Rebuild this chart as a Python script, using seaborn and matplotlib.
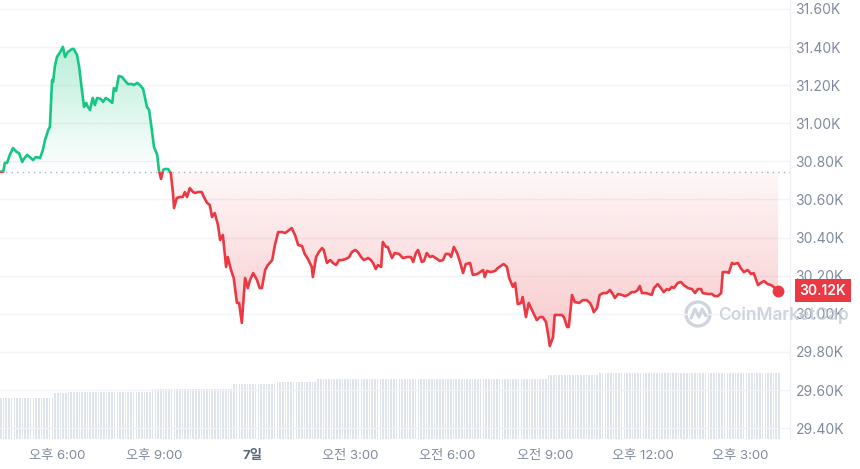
import numpy as np
import pandas as pd
import matplotlib
matplotlib.use("Agg")
import matplotlib.pyplot as plt
import seaborn as sns
from matplotlib.colors import to_rgb
from matplotlib.patches import Rectangle, Ellipse
from matplotlib.lines import Line2D

# minutes after 16:15 (6th), price in thousands of USD
minutes = [0, 6, 9, 13, 18, 24, 31, 35, 41, 44, 50, 57, 61, 66, 74, 79, 83, 89, 92, 96,
           98, 101, 105, 111, 116, 120, 125, 133, 136, 142, 146, 151, 155, 159, 162, 166, 171, 175, 179, 186,
           190, 195, 201, 207, 210, 214, 219, 225, 231, 236, 243, 247, 253, 258, 264, 271, 275, 280, 284, 290,
           293, 297, 301, 304, 310, 315, 319, 321, 326, 332, 337, 341, 345, 350, 356, 360, 365, 372, 376, 382,
           387, 391, 396, 402, 406, 411, 417, 420, 426, 431, 437, 441, 446, 452, 457, 461, 467, 474, 479, 483,
           489, 494, 502, 507, 513, 520, 526, 531, 538, 544, 550, 557, 562, 568, 575, 577, 583, 588, 594, 597,
           603, 609, 614, 620, 625, 631, 638, 644, 649, 655, 660, 666, 671, 679, 684, 688, 693, 697, 703, 706,
           712, 715, 723, 728, 736, 743, 751, 758, 762, 767, 771, 778, 782, 787, 793, 798, 806, 811, 817, 822,
           828, 832, 837, 843, 848, 854, 859, 867, 872, 880, 883, 891, 894, 898, 905, 913, 918, 926, 929, 935,
           939, 946, 950, 955, 961, 964, 970, 975, 983, 990, 996, 1001, 1007, 1011, 1014, 1020, 1023, 1029, 1036, 1040,
           1046, 1049, 1055, 1060, 1068, 1075, 1082, 1088, 1092, 1095, 1101, 1106, 1112, 1119, 1125, 1129, 1134, 1140, 1147, 1153,
           1158, 1165, 1171, 1176, 1180, 1184, 1191, 1197, 1202, 1206, 1213, 1219, 1224, 1230, 1234, 1239, 1243, 1250, 1256, 1261,
           1269, 1276, 1282, 1287, 1293, 1296, 1306, 1313, 1318, 1324, 1330, 1333, 1341, 1344, 1350, 1354, 1361, 1366, 1372, 1379,
           1385, 1390, 1398, 1403, 1409, 1416, 1422, 1427, 1435]
price_k = [30.746, 30.746, 30.792, 30.792, 30.834, 30.870, 30.849, 30.844, 30.797, 30.813,
           30.834, 30.818, 30.807, 30.823, 30.818, 30.860, 30.912, 30.965, 30.981, 31.227,
           31.217, 31.296, 31.348, 31.374, 31.401, 31.348, 31.374, 31.390, 31.390, 31.359,
           31.296, 31.175, 31.086, 31.107, 31.086, 31.070, 31.133, 31.096, 31.133, 31.128,
           31.112, 31.133, 31.122, 31.107, 31.185, 31.170, 31.248, 31.243, 31.222, 31.206,
           31.206, 31.201, 31.212, 31.201, 31.180, 31.086, 31.070, 30.965, 30.876, 30.834,
           30.755, 30.708, 30.755, 30.760, 30.760, 30.739, 30.634, 30.555, 30.608, 30.613,
           30.613, 30.639, 30.613, 30.660, 30.639, 30.634, 30.639, 30.639, 30.613, 30.582,
           30.571, 30.508, 30.529, 30.466, 30.387, 30.414, 30.246, 30.298, 30.230, 30.188,
           30.057, 30.057, 29.952, 30.188, 30.135, 30.177, 30.214, 30.177, 30.135, 30.135,
           30.230, 30.256, 30.282, 30.361, 30.429, 30.429, 30.424, 30.435, 30.450, 30.414,
           30.361, 30.356, 30.314, 30.288, 30.246, 30.193, 30.298, 30.324, 30.345, 30.335,
           30.267, 30.282, 30.267, 30.256, 30.282, 30.282, 30.288, 30.298, 30.324, 30.335,
           30.324, 30.298, 30.282, 30.293, 30.282, 30.267, 30.235, 30.256, 30.246, 30.377,
           30.351, 30.351, 30.293, 30.319, 30.314, 30.293, 30.298, 30.298, 30.272, 30.319,
           30.335, 30.272, 30.277, 30.319, 30.298, 30.303, 30.288, 30.277, 30.282, 30.314,
           30.314, 30.298, 30.351, 30.319, 30.277, 30.214, 30.261, 30.267, 30.204, 30.209,
           30.214, 30.230, 30.193, 30.225, 30.219, 30.225, 30.240, 30.256, 30.261, 30.246,
           30.188, 30.141, 30.162, 30.051, 30.057, 30.088, 29.983, 30.057, 30.009, 29.967,
           29.983, 29.983, 29.957, 29.889, 29.831, 29.878, 29.994, 29.994, 29.994, 29.983,
           29.931, 29.931, 30.099, 30.062, 30.057, 30.072, 30.072, 30.057, 30.036, 30.009,
           30.030, 30.099, 30.109, 30.109, 30.125, 30.109, 30.083, 30.104, 30.099, 30.093,
           30.099, 30.114, 30.114, 30.125, 30.146, 30.109, 30.109, 30.104, 30.099, 30.135,
           30.156, 30.135, 30.114, 30.130, 30.125, 30.141, 30.135, 30.162, 30.167, 30.151,
           30.135, 30.130, 30.109, 30.130, 30.130, 30.109, 30.104, 30.104, 30.093, 30.093,
           30.109, 30.219, 30.219, 30.214, 30.267, 30.261, 30.267, 30.240, 30.219, 30.230,
           30.209, 30.214, 30.151, 30.162, 30.172, 30.156, 30.151, 30.141, 30.122]
open_k = 30.746

# volume bars every 5 minutes (relative units), one row per hour
vol = [12.4, 12.4, 12.4, 12.4, 12.4, 12.4, 12.4, 12.4, 12.4, 12.4, 12.4, 12.4,
       12.4, 12.4, 12.4, 12.4, 12.4, 12.4, 12.4, 12.4, 13.9, 13.9, 13.9, 13.9,
       13.9, 14.2, 14.2, 14.2, 14.2, 14.2, 14.2, 14.2, 14.2, 14.2, 14.2, 14.2,
       14.2, 14.2, 14.2, 14.2, 14.2, 14.2, 14.2, 14.2, 14.2, 14.2, 14.2, 14.2,
       14.2, 14.2, 14.2, 14.2, 14.2, 14.2, 14.2, 14.2, 15.2, 15.2, 15.2, 15.2,
       15.2, 15.2, 15.2, 15.2, 15.2, 15.2, 15.2, 15.2, 15.2, 15.2, 15.2, 15.2,
       15.2, 15.2, 15.2, 15.2, 15.2, 15.2, 15.2, 15.2, 15.2, 15.2, 15.2, 15.2,
       15.2, 15.2, 16.7, 16.7, 16.7, 16.7, 16.7, 16.7, 16.7, 16.7, 16.7, 16.7,
       16.7, 16.7, 16.7, 16.7, 16.7, 16.7, 17.3, 17.3, 17.3, 17.3, 17.3, 17.3,
       17.3, 17.3, 17.3, 17.3, 17.3, 17.3, 17.3, 17.3, 17.3, 18.2, 18.2, 18.2,
       18.2, 18.2, 18.2, 18.2, 18.2, 18.2, 18.2, 18.2, 18.2, 18.2, 18.2, 18.2,
       18.2, 18.2, 18.2, 18.2, 18.2, 18.2, 18.2, 18.2, 18.2, 18.2, 18.2, 18.2,
       18.2, 18.2, 18.2, 18.2, 18.2, 18.2, 18.2, 18.2, 18.2, 18.2, 18.2, 18.2,
       18.2, 18.2, 18.2, 18.2, 18.2, 18.2, 18.2, 18.2, 18.2, 18.2, 18.2, 18.2,
       18.2, 18.2, 18.2, 18.2, 18.2, 18.2, 18.2, 18.2, 18.2, 18.2, 18.2, 18.2,
       18.2, 18.2, 18.2, 18.2, 18.2, 18.2, 18.2, 18.2, 18.2, 18.2, 18.2, 18.2,
       18.2, 18.2, 18.2, 18.2, 18.2, 18.2, 18.2, 18.2, 18.2, 18.2, 19.4, 19.4,
       19.4, 19.4, 19.4, 19.4, 19.4, 19.4, 19.4, 19.4, 19.4, 19.4, 19.4, 19.4,
       19.4, 19.4, 19.4, 19.4, 19.4, 20.0, 20.0, 20.0, 20.0, 20.0, 20.0, 20.0,
       20.0, 20.0, 20.0, 20.0, 20.0, 20.0, 20.0, 20.0, 20.0, 20.0, 20.0, 20.0,
       20.0, 20.0, 20.0, 20.0, 20.0, 20.0, 20.0, 20.0, 20.0, 20.0, 20.0, 20.0,
       20.0, 20.0, 20.0, 20.0, 20.0, 20.0, 20.0, 20.0, 20.0, 20.0, 20.0, 20.0,
       20.0, 20.0, 20.0, 20.0, 20.0, 20.0, 20.0, 20.0, 20.0, 20.0, 20.0, 20.0,
       20.0, 20.0, 20.0, 20.0, 20.0, 20.0, 20.0, 20.0, 20.0, 20.0, 20.0, 20.0]
vol_minutes = list(range(0, 5 * len(vol), 5))

tick_minutes = [105, 285, 465, 645, 825, 1005, 1185, 1365]
tick_labels = ["오후 6:00", "오후 9:00", "7일", "오전 3:00", "오전 6:00",
               "오전 9:00", "오후 12:00", "오후 3:00"]
y_ticks = [29.4, 29.6, 29.8, 30.0, 30.2, 30.4, 30.6, 30.8, 31.0, 31.2, 31.4, 31.6]

GREEN = "#16c784"
RED = "#ea3943"
GREY = "#808a9d"

sns.set_theme(style="white")
plt.rcParams["font.family"] = ["Inter", "Noto Sans CJK KR", "DejaVu Sans"]

df = pd.DataFrame({"t": minutes, "p": price_k})
x_max = 1457
y_lo, y_hi = 29.343, 31.647

fig = plt.figure(figsize=(8.6, 4.69), dpi=100)
ax = fig.add_axes([0, 30 / 469, 790 / 860, 439 / 469])
ax2 = ax.twinx()

# volume
ax2.bar(vol_minutes, vol, width=3.0, color="#dfe3ea", align="edge", lw=0)
ax2.set_ylim(0, 133)
ax2.axis("off")
ax.set_zorder(ax2.get_zorder() + 1)
ax.patch.set_visible(False)


def gradient_fill(ax, x, y, base, far, color, a_base, a_far):
    poly = ax.fill_between(x, y, base, color="none", lw=0)
    grad = np.zeros((256, 1, 4))
    grad[..., :3] = to_rgb(color)
    grad[:, 0, 3] = np.linspace(a_base, a_far, 256)
    im = ax.imshow(grad, extent=[x[0], x[-1], base, far], origin="lower",
                   aspect="auto", zorder=1, interpolation="bilinear")
    im.set_clip_path(poly.get_paths()[0], transform=ax.transData)


t = df["t"].to_numpy()
p = df["p"].to_numpy()
gradient_fill(ax, t, np.maximum(p, open_k), open_k, p.max(), GREEN, 0.0, 0.3)
gradient_fill(ax, t, np.minimum(p, open_k), open_k, p.min(), RED, 0.04, 0.28)

ax.axhline(open_k, color="#a6b0c3", lw=1.0, ls=(0, (1, 3)), zorder=2)

sns.lineplot(data=df, x="t", y="p", ax=ax, color=GREEN, lw=1.9, estimator=None, zorder=3)
sns.lineplot(data=df, x="t", y="p", ax=ax, color=RED, lw=1.9, estimator=None, zorder=3)
up, down = ax.lines[-2], ax.lines[-1]
up.set_clip_path(Rectangle((-50, open_k), 2000, 5, transform=ax.transData))
down.set_clip_path(Rectangle((-50, open_k - 5), 2000, 5, transform=ax.transData))
ax.plot(minutes[-1], price_k[-1], "o", color=RED, ms=7.5, zorder=4)

ax.set_xlim(0, x_max)
ax.set_ylim(y_lo, y_hi)
ax.set_xlabel("")
ax.set_ylabel("")

ax.yaxis.tick_right()
ax.set_yticks(y_ticks)
ax.set_yticklabels([f"{v:.2f}K" for v in y_ticks])
ax.tick_params(axis="y", length=0, pad=4, labelsize=10, labelcolor=GREY)
ax.set_xticks(tick_minutes)
ax.set_xticklabels(tick_labels)
ax.tick_params(axis="x", length=0, pad=8, labelsize=9.5, labelcolor=GREY)
for lbl in ax.get_xticklabels():
    if lbl.get_text() == "7일":
        lbl.set_fontweight("bold")
        lbl.set_color("#58667e")

ax.grid(axis="y", color="#f1f3f6", lw=1)
ax.grid(axis="x", visible=False)
for s in ["top", "left", "bottom"]:
    ax.spines[s].set_visible(False)
ax.spines["right"].set_color("#eff2f5")
ax.spines["right"].set_linewidth(1)

# current price tag
ax.annotate(f"{price_k[-1]:.2f}K", xy=(1, price_k[-1]), xycoords=("axes fraction", "data"),
            xytext=(7, 0), textcoords="offset points", ha="left", va="center",
            color="white", fontsize=10, fontweight="semibold",
            bbox=dict(boxstyle="square,pad=0.35", fc=RED, ec="none"))

# watermark
wm = "#c3cad6"
fig.text(718 / 860, 1 - 315 / 469, "CoinMarketCap", color=wm, fontsize=12.5,
         fontweight="semibold", va="center", ha="left", alpha=0.8, zorder=5)
fig.add_artist(Ellipse((698 / 860, 1 - 314 / 469), 24 / 860, 24 / 469, fill=False,
                       ec=wm, lw=2.4, alpha=0.8, transform=fig.transFigure))
fig.add_artist(Line2D([691 / 860, 695 / 860, 699 / 860, 702 / 860, 706 / 860],
                      [1 - 318 / 469, 1 - 309 / 469, 1 - 317 / 469, 1 - 309 / 469, 1 - 316 / 469],
                      color=wm, lw=2.2, alpha=0.8, transform=fig.transFigure))

fig.savefig("out.png", dpi=100, facecolor="white")
